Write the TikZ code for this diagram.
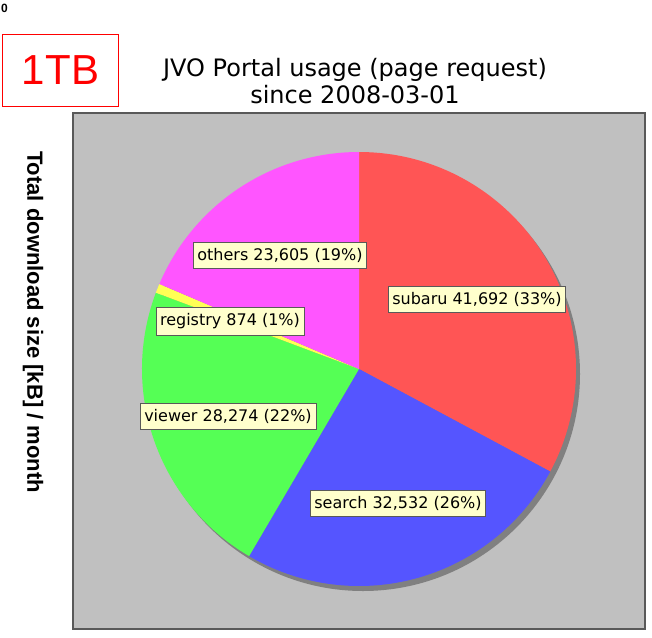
\documentclass[tikz,border=0pt]{standalone}
\usepackage{fontspec}
\setmainfont{DejaVu Sans}
\newfontfamily\arialfont{Liberation Sans}
\definecolor{plotgray}{HTML}{C0C0C0}
\definecolor{subarured}{HTML}{FF5555}
\definecolor{searchblue}{HTML}{5555FF}
\definecolor{viewergreen}{HTML}{55FF55}
\definecolor{registryyellow}{HTML}{FFFF55}
\definecolor{othersmagenta}{HTML}{FF55FF}
\definecolor{tipyellow}{HTML}{FFFFCC}
\tikzset{
  slicelabel/.style={draw=gray!70!black, fill=tipyellow, inner xsep=4pt, inner ysep=6pt, font=\fontsize{16}{18}\selectfont},
  titletext/.style={font=\fontsize{24}{27}\selectfont, align=center}
}
\begin{document}
\begin{tikzpicture}[x=1pt,y=-1pt]
        \useasboundingbox (0,0) rectangle (652,637);

        \node[font=\arialfont\bfseries\fontsize{12}{12}\selectfont, inner sep=0pt] (corner) at (4.5,8) {0};
        \node[draw=red, line width=1pt, text=red, font=\arialfont\fontsize{42}{42}\selectfont, minimum width=116pt, minimum height=72pt] (tb) at (60.5,70) {1TB};
        \node[titletext] (title) at (355,81) {JVO Portal usage (page request)\\since 2008-03-01};
        \node[rotate=-90, font=\arialfont\bfseries\fontsize{22}{22}\selectfont] (ylabel) at (33,322) {Total download size [kB] / month};

        \filldraw[fill=plotgray, draw=black!65, line width=2pt] (73,113) rectangle (645,629);

        % pie: shadow first, then the slices clockwise from the top
        \fill[black!50] (363,374) circle (217);
        \fill[subarured] (359,369) -- ++(-90:217) arc (-90:28.20:217) -- cycle;
        \fill[searchblue] (359,369) -- ++(28.20:217) arc (28.20:120.43:217) -- cycle;
        \fill[viewergreen] (359,369) -- ++(120.43:217) arc (120.43:200.59:217) -- cycle;
        \fill[registryyellow] (359,369) -- ++(200.59:217) arc (200.59:203.07:217) -- cycle;
        \fill[othersmagenta] (359,369) -- ++(203.07:217) arc (203.07:270:217) -- cycle;

        \node[slicelabel] (others) at (280,255) {others 23,605 (19\%)};
        \node[slicelabel] (subaru) at (477,299) {subaru 41,692 (33\%)};
        \node[slicelabel] (registry) at (230,321) {registry 874 (1\%)};
        \node[slicelabel] (viewer) at (228,416) {viewer 28,274 (22\%)};
        \node[slicelabel] (search) at (398,503) {search 32,532 (26\%)};
\end{tikzpicture}
\end{document}
